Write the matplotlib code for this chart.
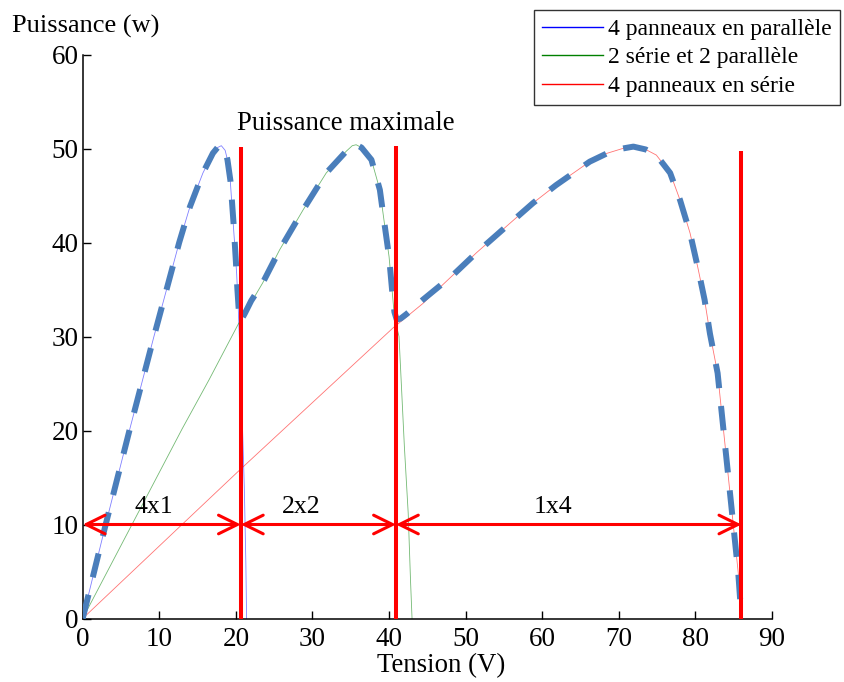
import matplotlib
matplotlib.use("Agg")
import matplotlib.pyplot as plt

plt.rcParams['font.family'] = ['Liberation Serif', 'DejaVu Serif']

# ---- data ----
blue_v = [0, 3.0, 6.1, 9.3, 12.6, 14.0, 15.7, 17.0, 17.6, 18.1, 18.6, 18.9, 19.2, 19.5, 19.8,
          20.1, 20.3, 20.5, 20.8, 21.1, 21.3, 21.4]
blue_p = [0, 10.0, 20.0, 30.0, 40.0, 43.8, 47.4, 49.5, 50.1, 50.3, 49.8, 48.8, 47.4, 43.8, 40.3,
          36.7, 33.2, 29.0, 22.0, 14.0, 6.0, 0]

green_v = [0, 6.5, 13.0, 16.5, 20.3, 20.9, 23.5, 25.7, 28.8, 31.8, 34.4, 35.2, 35.7, 36.4, 37.7, 38.8, 39.4,
           40.0, 40.4, 40.7, 41.0, 41.3, 41.6, 42.0, 42.5, 42.8, 43.0]
green_p = [0, 10.1, 20.2, 25.4, 31.3, 32.1, 35.7, 39.2, 43.5, 47.4, 49.7, 50.3, 50.4, 50.1, 48.8, 45.6, 42.0,
           38.5, 34.9, 32.1, 31.0, 30.0, 25.0, 18.3, 11.2, 4.1, 0]

red_v = [0, 13.1, 20.5, 40.5, 44.4, 48.3, 51.4, 55.3, 58.8, 61.8, 66.2, 68.5, 70.5, 71.9, 73.5, 74.9,
         76.7, 78.0, 79.3, 80.3, 81.2, 81.9, 82.9, 83.8, 84.7, 85.6, 86.0]
red_p = [0, 10.1, 15.8, 30.9, 33.5, 36.5, 38.9, 41.7, 44.2, 46.1, 48.6, 49.5, 50.0, 50.2, 49.9, 49.3,
         47.4, 44.5, 41.0, 37.4, 33.9, 30.3, 26.1, 19.0, 11.9, 4.8, 0.2]

env_v = [0, 3.0, 6.1, 9.3, 12.6, 14.0, 15.7, 17.0, 17.6, 18.1, 18.6, 18.9, 19.3, 19.7, 20.0, 20.2, 20.4, 20.6,
         21.2, 22.0, 23.5, 25.7, 28.8, 31.8, 34.4, 35.2, 35.7, 36.4, 37.7, 38.8, 39.4, 40.0, 40.4, 40.7, 41.0,
         41.5, 42.3, 44.4, 48.3, 51.4, 55.3, 58.8, 61.8, 66.2, 68.5, 70.5, 71.9, 73.5, 74.9, 76.7, 78.0, 79.3,
         80.3, 81.2, 81.9, 82.9, 83.8, 84.7, 85.6, 86.0]
env_p = [0, 10.0, 20.0, 30.0, 40.0, 43.8, 47.4, 49.5, 50.1, 50.3, 49.8, 48.8, 46.5, 42.0, 38.0, 35.0, 32.5, 31.6,
         32.5, 33.8, 35.7, 39.2, 43.5, 47.4, 49.7, 50.3, 50.4, 50.1, 48.8, 45.6, 42.0, 38.5, 34.9, 32.6, 31.8,
         31.9, 32.4, 33.9, 36.5, 38.9, 41.7, 44.2, 46.1, 48.6, 49.5, 50.0, 50.2, 49.9, 49.3, 47.4, 44.5, 41.0,
         37.4, 33.9, 30.3, 26.1, 19.0, 11.9, 4.8, 0.2]

# vertical limit lines (voltage, top power)
limit_v = [20.65, 40.9, 86.0]
limit_top = [50.2, 50.3, 49.7]
arrow_level = 10
config_labels = ["4x1", "2x2", "1x4"]
config_label_v = [9.3, 28.5, 61.4]

legend_labels = ["4 panneaux en parallèle", "2 série et 2 parallèle", "4 panneaux en série"]
x_ticks = [0, 10, 20, 30, 40, 50, 60, 70, 80, 90]
y_ticks = [0, 10, 20, 30, 40, 50, 60]

# ---- figure ----
fig = plt.figure(figsize=(8.45, 6.82), dpi=100)
ax = fig.add_axes([82.7 / 845, 1 - 618.5 / 682, (772 - 82.7) / 845, (618.5 - 54.5) / 682])

l1, = ax.plot(blue_v, blue_p, color='#0000ff', lw=0.6, alpha=0.5)
l2, = ax.plot(green_v, green_p, color='#008000', lw=0.6, alpha=0.55)
l3, = ax.plot(red_v, red_p, color='#ff0000', lw=0.6, alpha=0.55)

ax.plot(env_v, env_p, color='#4a7ebb', lw=4.3, dashes=(4.1, 3.0), dash_capstyle='butt', zorder=3)

for v, top in zip(limit_v, limit_top):
    ax.plot([v, v], [0, top], color='#ff0000', lw=2.9, zorder=4, clip_on=False, solid_capstyle='butt')

starts = [0] + limit_v[:-1]
for a, b in zip(starts, limit_v):
    ax.annotate('', xy=(b, arrow_level), xytext=(a, arrow_level),
                arrowprops=dict(arrowstyle='<->,head_length=0.85,head_width=0.42', mutation_scale=16,
                                lw=2.2, color='#ff0000', shrinkA=0, shrinkB=0), zorder=5)

for lab, v in zip(config_labels, config_label_v):
    ax.text(v, 11.2, lab, ha='center', va='baseline', fontsize=18.5)

ax.text(20.1, 52.0, "Puissance maximale", ha='left', va='baseline', fontsize=19.3)

ax.set_xlim(0, 90)
ax.set_ylim(0, 60)
ax.set_xticks(x_ticks)
ax.set_yticks(y_ticks)
ax.tick_params(direction='in', length=6, width=1, labelsize=19.5, pad=3)
ax.tick_params(axis='x', pad=6)
for s in ['top', 'right']:
    ax.spines[s].set_visible(False)
for s in ['left', 'bottom']:
    ax.spines[s].set_linewidth(1.1)

fig.text(12 / 845, 1 - 33 / 682, "Puissance (w)", ha='left', va='baseline', fontsize=19)
fig.text(441 / 845, 1 - 672 / 682, "Tension (V)", ha='center', va='baseline', fontsize=19.3)

leg = fig.legend([l1, l2, l3], legend_labels, loc='upper right',
                 bbox_to_anchor=(840 / 845, 1 - 10 / 682), fontsize=17, frameon=True, fancybox=False,
                 edgecolor='black', handlelength=2.6, handletextpad=0.2, labelspacing=0.3,
                 borderpad=0.35, borderaxespad=0)
leg.get_frame().set_linewidth(1.0)
for h in leg.get_lines():
    h.set_alpha(1)
    h.set_linewidth(1.0)

fig.savefig('out.png', dpi=100)
